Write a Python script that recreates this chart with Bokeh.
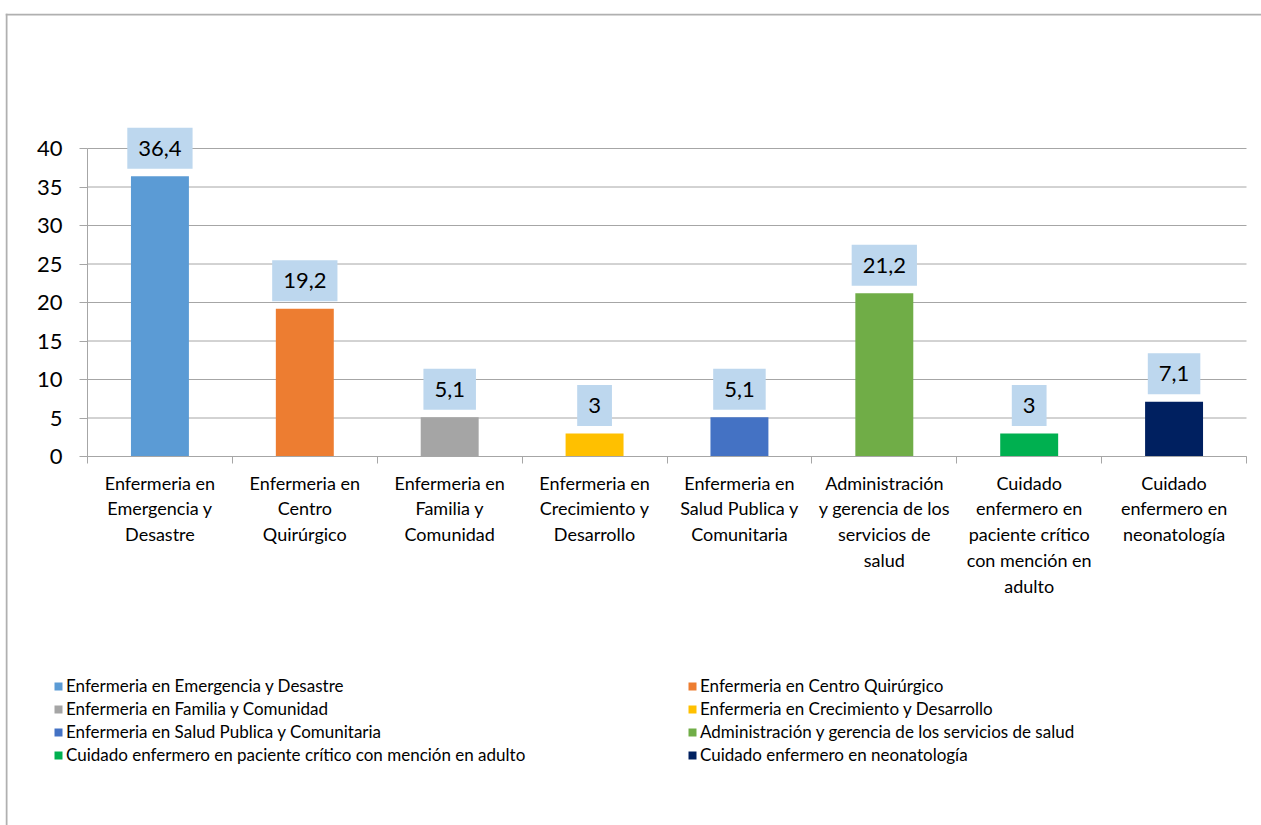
from bokeh.plotting import figure
from bokeh.models import (Range1d, LinearAxis, FixedTicker, Legend, LegendItem,
                          ColumnDataSource, Span)
from bokeh.core.properties import value
from bokeh.embed import file_html
from bokeh.resources import INLINE

# ---------------- data ----------------
categories = [
    "Enfermeria en Emergencia y Desastre",
    "Enfermeria en Centro Quirúrgico",
    "Enfermeria en Familia y Comunidad",
    "Enfermeria en Crecimiento y Desarrollo",
    "Enfermeria en Salud Publica y Comunitaria",
    "Administración y gerencia de los servicios de salud",
    "Cuidado enfermero en paciente crítico con mención en adulto",
    "Cuidado enfermero en neonatología",
]
tick_labels = [
    "Enfermeria en\nEmergencia y\nDesastre",
    "Enfermeria en\nCentro\nQuirúrgico",
    "Enfermeria en\nFamilia y\nComunidad",
    "Enfermeria en\nCrecimiento y\nDesarrollo",
    "Enfermeria en\nSalud Publica y\nComunitaria",
    "Administración\ny gerencia de los\nservicios de\nsalud",
    "Cuidado\nenfermero en\npaciente crítico\ncon mención en\nadulto",
    "Cuidado\nenfermero en\nneonatología",
]
values = [36.4, 19.2, 5.1, 3, 5.1, 21.2, 3, 7.1]
colors = ["#5B9BD5", "#ED7D31", "#A5A5A5", "#FFC000",
          "#4472C4", "#70AD47", "#00B050", "#002060"]
y_ticks = [0, 5, 10, 15, 20, 25, 30, 35, 40]

value_labels = [("%g" % v).replace(".", ",") for v in values]

FONT = "Lato"
GRAY = "#a6a6a6"
BORDER = "#b0b0b0"
W, H = 1256, 812
N = len(categories)

# frame == whole canvas; scales chosen so the plot area sits like the original
XPX = 144.875           # px per category
YPX = 7.7               # px per unit
x0_px, y0_px = 82, 443  # canvas position of category edge -0.5 and of y = 0

x_start = -0.5 - x0_px / XPX
x_end = -0.5 + (W - x0_px) / XPX
y_start = -(H - y0_px) / YPX
y_end = y0_px / YPX

src = ColumnDataSource(dict(x=list(range(N)), top=values,
                            color=colors, label=value_labels, name=categories))

p = figure(width=W, height=H, output_backend="svg", toolbar_location=None,
           x_range=Range1d(x_start, x_end), y_range=Range1d(y_start, y_end),
           x_axis_type=None, y_axis_type=None,
           min_border=0, min_border_left=0, min_border_right=0,
           min_border_top=0, min_border_bottom=0)
p.outline_line_color = None
p.background_fill_color = "white"
p.border_fill_color = "white"
p.styles = {"margin-top": "13px", "margin-left": "5px"}

# chart-area border (left and top edges, as in the original)
p.add_layout(Span(location=x_start + 1.0 / XPX, dimension="height",
                  line_color=BORDER, line_width=2))
p.add_layout(Span(location=y_end - 1.0 / YPX, dimension="width",
                  line_color=BORDER, line_width=2))

# horizontal gridlines over the category span only
p.segment(x0=[-0.5] * len(y_ticks), x1=[N - 0.5] * len(y_ticks),
          y0=y_ticks, y1=y_ticks, line_color=GRAY, line_width=1)

yticker = FixedTicker(ticks=y_ticks, minor_ticks=[])
yaxis = LinearAxis(ticker=yticker, bounds=(0, 40), fixed_location=-0.5,
                   axis_line_color=GRAY, major_tick_line_color=GRAY,
                   major_tick_out=8, major_tick_in=0,
                   minor_tick_out=0, minor_tick_in=0,
                   major_label_standoff=17,
                   major_label_text_font=FONT,
                   major_label_text_font_size="22px",
                   major_label_text_color="black")
p.add_layout(yaxis, "left")

xticker = FixedTicker(ticks=list(range(N)),
                      minor_ticks=[i - 0.5 for i in range(N + 1)])
xaxis = LinearAxis(ticker=xticker, bounds=(-0.5, N - 0.5), fixed_location=0,
                   major_label_overrides={i: t for i, t in enumerate(tick_labels)},
                   axis_line_color=GRAY,
                   major_tick_line_color=None, major_tick_out=0, major_tick_in=0,
                   minor_tick_line_color=GRAY, minor_tick_out=7, minor_tick_in=0,
                   major_label_standoff=8,
                   major_label_text_font=FONT,
                   major_label_text_font_size="18px",
                   major_label_text_line_height=1.18,
                   major_label_text_color="black")
p.add_layout(xaxis, "below")

r = p.vbar(x="x", top="top", width=0.4, fill_color="color", line_color=None,
           source=src)

p.text(x="x", y="top", text="label", source=src,
       text_align="center", text_baseline="middle", y_offset=-28,
       text_font=value(FONT), text_font_size="22px", text_color="black",
       background_fill_color="#BDD7EE", padding=dict(x=11, y=13))

items = [LegendItem(label=categories[i], renderers=[r], index=i)
         for i in range(N)]


def make_legend(its, loc):
    return Legend(items=its, location=loc, orientation="vertical",
                  padding=0, margin=0, spacing=0,
                  glyph_width=10, glyph_height=10, label_standoff=3,
                  label_height=23,
                  border_line_color=None, background_fill_alpha=0,
                  label_text_font=FONT, label_text_font_size="17px",
                  label_text_color="black")


p.add_layout(make_legend(items[0::2], (48, 59)), "center")
p.add_layout(make_legend(items[1::2], (682, 59)), "center")

open("out.html", "w").write(file_html(p, INLINE))
